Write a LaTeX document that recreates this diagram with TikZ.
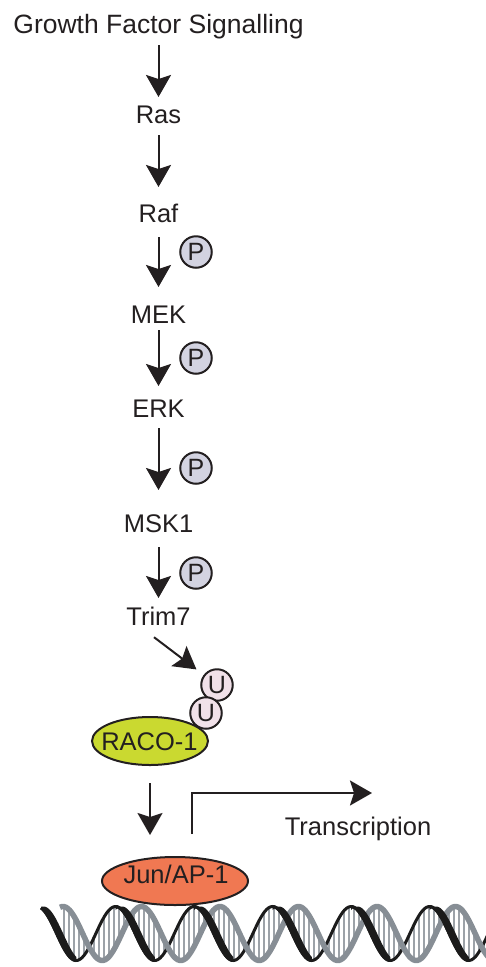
\documentclass[tikz,border=0pt]{standalone}
\usepackage{fontspec}
\setmainfont{Liberation Sans}
\usetikzlibrary{arrows.meta,shapes.geometric}
\definecolor{ink}{HTML}{231F20}
\definecolor{racofill}{HTML}{CAD930}
\definecolor{junfill}{HTML}{F07852}
\definecolor{phosfill}{HTML}{D3D3E1}
\definecolor{ubqfill}{HTML}{F1E1E9}
\definecolor{strandA}{HTML}{1B1B1B}
\definecolor{strandB}{HTML}{878E95}
\definecolor{basepair}{HTML}{9CA2A8}

\begin{document}
\begin{tikzpicture}[x=1pt,y=-1pt,
  lbl/.style={font=\fontsize{25.5}{30}\selectfont, text=ink, inner sep=0pt,
              text height=18.3pt, text depth=0pt, anchor=base},
  sig/.style={draw=ink, line width=2pt, -{Stealth[length=22pt,width=25pt,inset=4pt]}},
  modif/.style={circle, draw=ink, line width=2pt, minimum size=31.5pt, inner sep=0pt,
                font=\fontsize{25}{28}\selectfont, text=ink},
  phos/.style={modif, fill=phosfill},
  ubq/.style={modif, fill=ubqfill},
  blob/.style={ellipse, draw=ink, line width=2pt, inner sep=0pt},
]
\useasboundingbox (0,0) rectangle (486,967);

% kinase cascade
\node[lbl, font=\fontsize{26.5}{30}\selectfont] (gfs) at (158.5,33) {Growth Factor Signalling};
\node[lbl] (ras)  at (158.5,123) {Ras};
\node[lbl] (raf)  at (158.5,222) {Raf};
\node[lbl] (mek)  at (158.5,323) {MEK};
\node[lbl] (erk)  at (158.5,417) {ERK};
\node[lbl] (msk)  at (158.5,532) {MSK1};
\node[lbl] (trim) at (158.5,625) {Trim7};

\draw[sig, shorten <=12pt, shorten >=7.5pt]  (gfs.south) -- (ras.north);
\draw[sig, shorten <=12pt, shorten >=16.5pt] (ras.south) -- (raf.north);
\draw[sig, shorten <=15pt, shorten >=17.5pt] (raf.south) -- (mek.north);
\draw[sig, shorten <=7pt,  shorten >=12.5pt] (mek.south) -- (erk.north);
\draw[sig, shorten <=11pt, shorten >=23.5pt] (erk.south) -- (msk.north);
\draw[sig, shorten <=15pt, shorten >=8.5pt]  (msk.south) -- (trim.north);

% phosphorylation marks
\node[phos] (p1) at (196,252) {P};
\node[phos] (p2) at (196,358) {P};
\node[phos] (p3) at (196,468) {P};
\node[phos] (p4) at (196,573) {P};

% RACO-1 with its ubiquitin chain
\node[blob, fill=racofill, minimum width=116pt, minimum height=48pt] (raco) at (150,741) {};
\node[lbl] (racolbl) at (149.5,750) {RACO-1};
\node[ubq] (u1) at (217,685) {U};
\node[ubq] (u2) at (206,713) {U};
\draw[sig, shorten >=9pt] ([xshift=-4.5pt,yshift=-12pt]trim.south) -- (u1);

% Jun/AP-1 on DNA
\node[blob, fill=junfill, minimum width=146pt, minimum height=48pt] (jun) at (175,881) {};
\node[lbl] (junlbl) at (176,883) {Jun/AP-1};
\draw[sig, shorten <=17pt, shorten >=21pt] (raco.south) -- (raco.south |- jun.north);

\coordinate (txend) at (372,793);
\draw[sig] ([xshift=17pt,yshift=22pt]jun.north) |- (txend);
\node[lbl] (tx) at (358,835) {Transcription};

% double helix: strand A phase 37, strand B phase 63, period 78.5
\begin{scope}
\clip (0,895) rectangle (486,967);
\foreach \x in {64,69,...,486} {
  \draw[basepair, line width=1.6pt]
    (\x,{933.5-27*cos((\x-37)/78.5*360)}) -- (\x,{933.5-27*cos((\x-63)/78.5*360)});
}
\draw[strandA, line width=3pt] plot[domain=41:490, samples=220, smooth]
  (\x,{933.5-27*cos((\x-37)/78.5*360)});
\draw[strandB, line width=5.5pt] plot[domain=60:490, samples=220, smooth]
  (\x,{933.5-27*cos((\x-63)/78.5*360)});
\foreach \k in {0,...,5} {
  \pgfmathsetmacro\xa{max(41,37+78.5*\k)}
  \pgfmathsetmacro\xb{37+78.5*\k+39.25}
  \fill[strandA] plot[domain=\xa:\xb, samples=40] (\x,{933.5-27*cos((\x-37)/78.5*360)})
    -- plot[domain=\xb:\xa, samples=40] (\x,{933.5-27*cos((\x-43.5)/78.5*360)}) -- cycle;
  \draw[strandA, line width=3pt] plot[domain=\xa:\xb, samples=40]
    (\x,{933.5-27*cos((\x-37)/78.5*360)});
}
\end{scope}
\end{tikzpicture}
\end{document}
